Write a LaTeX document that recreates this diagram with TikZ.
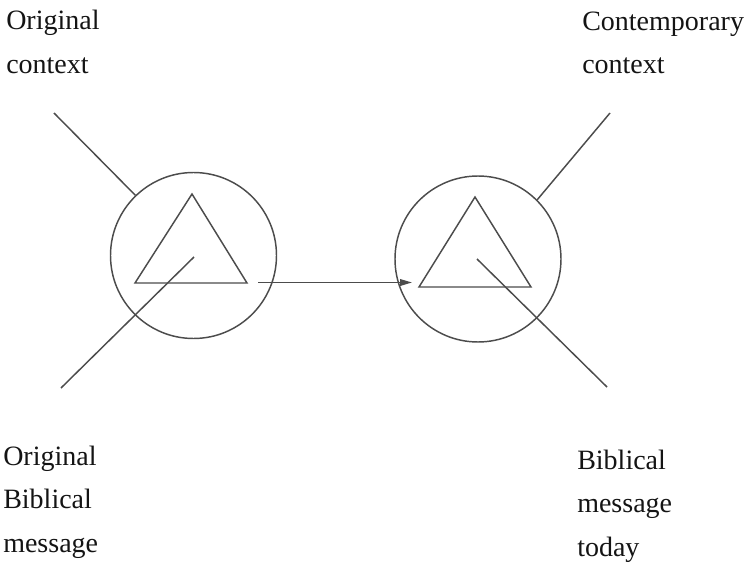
\documentclass[tikz,border=0pt]{standalone}
\usepackage{fontspec}
\setmainfont{Liberation Serif}
\usetikzlibrary{arrows.meta}
\definecolor{ink}{gray}{0.3}
\begin{document}
\begin{tikzpicture}[x=0.75pt,y=-0.75pt,
  ring/.style={circle,draw=ink,line width=1.1pt,minimum size=124.5pt,inner sep=0pt},
  e/.style={draw=ink,line width=1.1pt},
  lab/.style={font=\fontsize{21}{32.6}\selectfont,text=black!92,align=left,inner sep=0pt,anchor=base west}]
  \useasboundingbox (0,0) rectangle (751,564);
  % the two circles: original and contemporary
  \node[ring] (orig) at (193.5,255.5) {};
  \node[ring] (cont) at (478,259) {};
  % triangles inside them
  \draw[e] (192,194) -- (247,283) -- (135,283) -- cycle;
  \draw[e] (475,197) -- (531,287) -- (419,287) -- cycle;
  % spokes: context lines stop at the circle, message lines start inside
  \foreach \name/\xx/\yy in {oc/54/113,om/61/388,cc/610/113,cm/607/387,oi/194/257,ci/477/259}
    \coordinate (\name) at (\xx,\yy);
  \draw[e] (orig.134) -- (oc);
  \draw[e] (oi) -- (om);
  \draw[e] (cont.45) -- (cc);
  \draw[e] (ci) -- (cm);
  % transfer arrow
  \coordinate (from) at (258,282.5);
  \coordinate (to) at (412,282.5);
  \draw[e,-{Triangle[length=9pt,width=5pt]}] (from) -- (to);
  % labels (base = baseline of the last line)
  \node[lab] (oclab) at (6,73) {Original\\context};
  \node[lab] (cclab) at (582,74) {Contemporary\\context};
  \node[lab] (omlab) at (3,552) {Original\\Biblical\\message};
  \node[lab] (cmlab) at (577,556) {Biblical\\message\\today};
\end{tikzpicture}
\end{document}
